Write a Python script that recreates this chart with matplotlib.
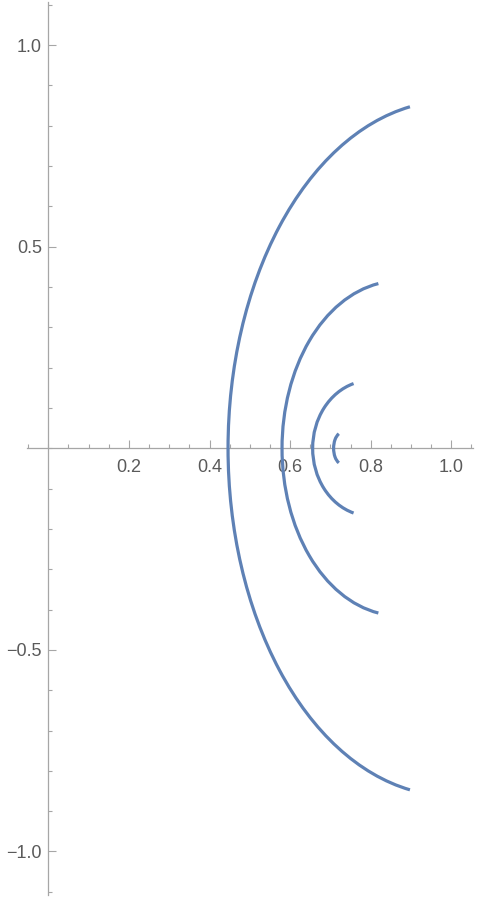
import numpy as np
import matplotlib
matplotlib.use("Agg")
import matplotlib.pyplot as plt
from matplotlib.patches import Arc

# Curve data: each curve is a half-ellipse-like arc
arc_center_x = [1.00, 0.87, 0.80, 0.730]
arc_semi_x = [0.554, 0.290, 0.144, 0.022]
arc_semi_y = [0.862, 0.415, 0.168, 0.0395]
arc_tip_angle_deg = [96.9, 97.1, 104.8, 104.0]

x_major = [0.2, 0.4, 0.6, 0.8, 1.0]
x_labels = ["0.2", "0.4", "0.6", "0.8", "1.0"]
y_major = [-1.0, -0.5, 0.5, 1.0]
y_labels = ["\u22121.0", "\u22120.5", "0.5", "1.0"]

line_color = "#5E81B5"
axis_color = "#A6A6A6"
label_color = "#5A5A5A"

plt.rcParams['font.family'] = ['Liberation Sans', 'DejaVu Sans']

W, H = 478, 900
fig = plt.figure(figsize=(W / 100, H / 100), dpi=100)
ax = fig.add_axes([27 / W, 5 / H, 446 / W, 893 / H])
ax.set_xlim(-0.053, 1.054)
ax.set_ylim(-1.108, 1.107)

for cx, a, b, th in zip(arc_center_x, arc_semi_x, arc_semi_y, arc_tip_angle_deg):
    ax.add_patch(Arc((cx, 0), 2 * a, 2 * b, theta1=th, theta2=360 - th,
                     color=line_color, lw=2.3, zorder=3))

for s in ['top', 'right']:
    ax.spines[s].set_visible(False)
for s in ['left', 'bottom']:
    ax.spines[s].set_position('zero')
    ax.spines[s].set_color(axis_color)
    ax.spines[s].set_linewidth(0.9)

ax.set_xticks(x_major)
ax.set_xticklabels(x_labels)
ax.set_yticks(y_major)
ax.set_yticklabels(y_labels)
ax.set_xticks(np.round(np.arange(-0.05, 1.051, 0.05), 3), minor=True)
ax.set_yticks(np.round(np.arange(-1.1, 1.101, 0.1), 3), minor=True)

ax.tick_params(axis='both', which='both', direction='in', color=axis_color,
               labelcolor=label_color, labelsize=13, width=0.8)
ax.tick_params(axis='both', which='major', length=5.5)
ax.tick_params(axis='both', which='minor', length=3)
ax.tick_params(axis='x', which='major', pad=8)
ax.tick_params(axis='y', which='major', pad=4.5)

fig.savefig("out.png", dpi=100)
